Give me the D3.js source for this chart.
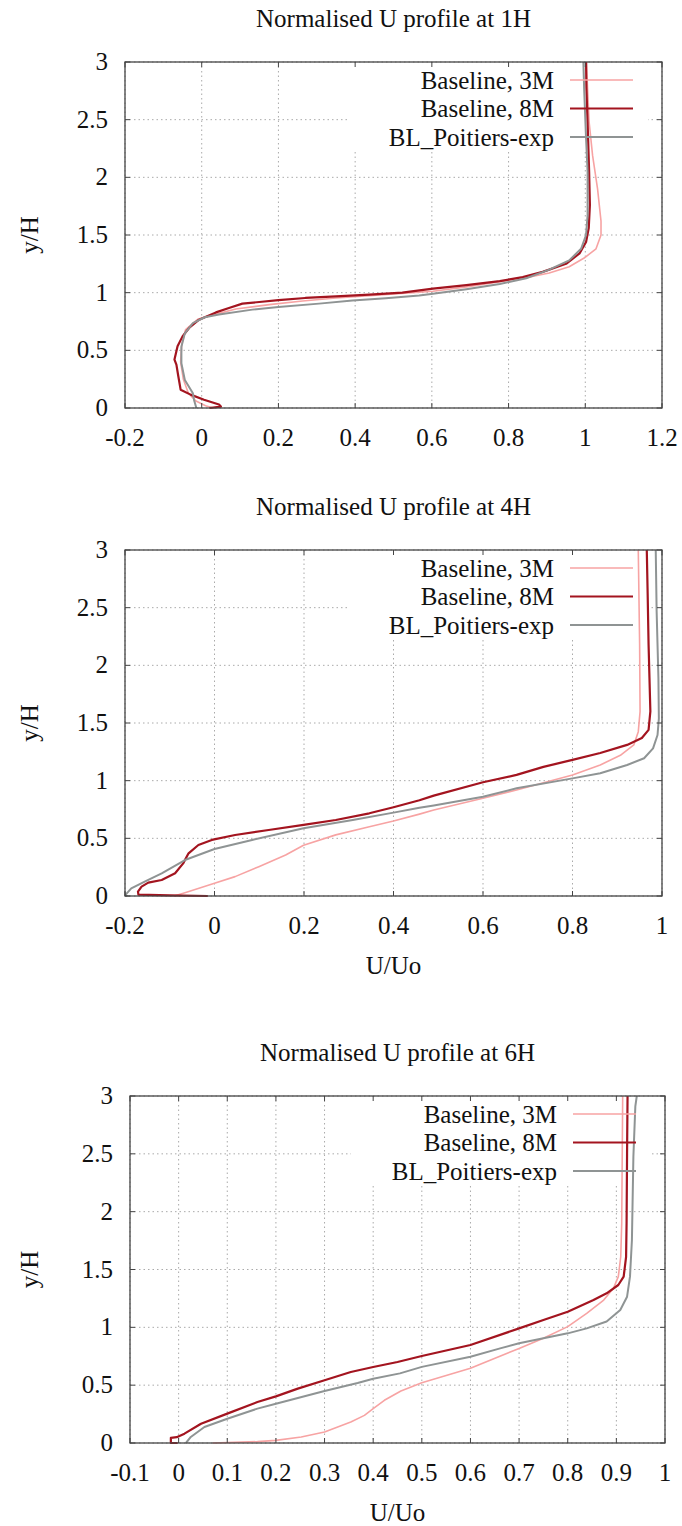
<!DOCTYPE html>
<html>
<head>
<meta charset="utf-8">
<script src="https://cdnjs.cloudflare.com/ajax/libs/d3/7.8.5/d3.min.js"></script>
<style>
  body { margin: 0; background: #fff; }
  text { font-family: "Liberation Serif", "DejaVu Serif", serif; fill: #111; }
</style>
</head>
<body>
<svg id="chart" width="682" height="1526"></svg>
<script>
// Series labels and tick labels
const seriesNames = ["Baseline, 3M", "Baseline, 8M", "BL_Poitiers-exp"];
const yTicks = [0, 0.5, 1, 1.5, 2, 2.5, 3];
const xTicks1H = [-0.2, 0, 0.2, 0.4, 0.6, 0.8, 1, 1.2];
const xTicks4H = [-0.2, 0, 0.2, 0.4, 0.6, 0.8, 1];
const xTicks6H = [-0.1, 0, 0.1, 0.2, 0.3, 0.4, 0.5, 0.6, 0.7, 0.8, 0.9, 1];

// Profiles as [U/Uo, y/H]
const p1H_3M = [[0.03,0],[0.01,0.02],[-0.015,0.06],[-0.035,0.13],[-0.048,0.25],[-0.055,0.4],[-0.052,0.55],[-0.042,0.68],[-0.01,0.77],[0.01,0.79],[0.089,0.858],[0.176,0.896],[0.263,0.928],[0.35,0.954],[0.437,0.974],[0.567,1.005],[0.603,1.012],[0.69,1.05],[0.777,1.095],[0.846,1.13],[0.906,1.17],[0.958,1.225],[0.997,1.3],[1.028,1.38],[1.041,1.5],[1.041,1.62],[1.032,1.9],[1.019,2.19],[1.01,2.48],[1.006,2.77],[1.003,3.0]];
const p1H_8M = [[0.02,0],[0.05,0.012],[0.045,0.03],[0.006,0.072],[-0.029,0.116],[-0.055,0.159],[-0.061,0.275],[-0.066,0.376],[-0.071,0.42],[-0.063,0.535],[-0.05,0.621],[-0.033,0.694],[-0.007,0.766],[0.037,0.829],[0.071,0.867],[0.106,0.905],[0.15,0.919],[0.2,0.936],[0.27,0.954],[0.35,0.968],[0.437,0.983],[0.523,1.0],[0.603,1.035],[0.69,1.065],[0.777,1.1],[0.837,1.135],[0.889,1.18],[0.95,1.25],[0.985,1.34],[1.002,1.44],[1.009,1.56],[1.012,1.76],[1.01,2.05],[1.006,2.48],[1.003,2.77],[1.002,3.0]];
const p1H_exp = [[-0.014,0],[-0.02,0.07],[-0.023,0.127],[-0.044,0.243],[-0.053,0.388],[-0.053,0.532],[-0.044,0.648],[-0.023,0.735],[0.008,0.787],[0.045,0.81],[0.132,0.853],[0.2,0.876],[0.306,0.905],[0.393,0.932],[0.48,0.952],[0.567,0.975],[0.603,0.99],[0.69,1.03],[0.777,1.075],[0.846,1.125],[0.906,1.2],[0.958,1.28],[0.989,1.38],[1.002,1.5],[1.006,1.67],[1.006,2.05],[1.002,2.34],[0.997,2.77],[0.995,3.0]];

const p4H_3M = [[-0.09,0],[-0.066,0.029],[0,0.11],[0.046,0.168],[0.099,0.254],[0.159,0.355],[0.199,0.44],[0.271,0.53],[0.346,0.6],[0.4,0.65],[0.458,0.71],[0.49,0.746],[0.6,0.847],[0.675,0.919],[0.8,1.05],[0.862,1.136],[0.907,1.22],[0.937,1.31],[0.947,1.425],[0.951,1.6],[0.95,2.18],[0.947,3.0]];
const p4H_8M = [[-0.015,0],[-0.1,0.005],[-0.17,0.012],[-0.171,0.038],[-0.163,0.081],[-0.148,0.116],[-0.118,0.139],[-0.088,0.197],[-0.07,0.283],[-0.058,0.37],[-0.036,0.442],[-0.006,0.486],[0.046,0.529],[0.121,0.572],[0.199,0.616],[0.271,0.659],[0.346,0.717],[0.4,0.77],[0.458,0.83],[0.49,0.87],[0.6,0.986],[0.675,1.05],[0.735,1.12],[0.8,1.18],[0.862,1.24],[0.922,1.31],[0.955,1.37],[0.97,1.44],[0.974,1.6],[0.972,1.89],[0.97,2.18],[0.968,2.61],[0.966,3.0]];
const p4H_exp = [[-0.195,0],[-0.199,0.009],[-0.186,0.066],[-0.156,0.124],[-0.118,0.197],[-0.066,0.312],[0,0.408],[0.084,0.486],[0.199,0.587],[0.309,0.659],[0.4,0.723],[0.458,0.765],[0.49,0.785],[0.6,0.861],[0.675,0.934],[0.8,1.02],[0.862,1.064],[0.922,1.136],[0.96,1.194],[0.98,1.28],[0.99,1.396],[0.993,1.54],[0.992,1.89],[0.988,2.47],[0.986,3.0]];

const p6H_3M = [[0.07,0],[0.162,0.012],[0.2,0.023],[0.252,0.052],[0.3,0.095],[0.354,0.182],[0.382,0.239],[0.4,0.297],[0.423,0.369],[0.457,0.45],[0.5,0.52],[0.6,0.646],[0.7,0.818],[0.75,0.905],[0.8,1.006],[0.839,1.121],[0.874,1.236],[0.894,1.337],[0.904,1.438],[0.909,1.61],[0.911,1.9],[0.913,3.0]];
const p6H_8M = [[-0.002,0],[-0.016,0],[-0.016,0.045],[-0.004,0.05],[0.012,0.081],[0.046,0.167],[0.1,0.254],[0.162,0.354],[0.2,0.403],[0.245,0.47],[0.3,0.542],[0.354,0.614],[0.4,0.657],[0.45,0.7],[0.5,0.752],[0.6,0.847],[0.7,0.991],[0.75,1.063],[0.8,1.135],[0.853,1.236],[0.88,1.294],[0.904,1.366],[0.915,1.438],[0.92,1.61],[0.921,1.9],[0.922,2.5],[0.923,3.0]];
const p6H_exp = [[0.015,0],[0.025,0.052],[0.053,0.138],[0.1,0.21],[0.162,0.297],[0.2,0.34],[0.3,0.45],[0.368,0.519],[0.4,0.556],[0.455,0.602],[0.5,0.658],[0.6,0.746],[0.661,0.818],[0.7,0.862],[0.75,0.905],[0.8,0.948],[0.839,0.991],[0.88,1.05],[0.908,1.15],[0.922,1.265],[0.928,1.438],[0.932,1.755],[0.935,2.475],[0.939,2.91],[0.942,3.0]];

const colors = ["#f7a3a3", "#a3141f", "#8f9494"];
const widths = [1.6, 2.2, 2];

const panels = [
  { title: "Normalised U profile at 1H", series: [p1H_3M, p1H_8M, p1H_exp], xDomain: [-0.2, 1.2], xTicks: xTicks1H,
    left: 125, right: 662, top: 62, bottom: 408, xLabel: null },
  { title: "Normalised U profile at 4H", series: [p4H_3M, p4H_8M, p4H_exp], xDomain: [-0.2, 1], xTicks: xTicks4H,
    left: 125, right: 662, top: 550, bottom: 896, xLabel: "U/Uo" },
  { title: "Normalised U profile at 6H", series: [p6H_3M, p6H_8M, p6H_exp], xDomain: [-0.1, 1], xTicks: xTicks6H,
    left: 130, right: 665, top: 1096, bottom: 1443, xLabel: "U/Uo" }
];

const svg = d3.select("#chart");
const fmt = d => String(+d.toFixed(2));

function label(g, x, y, s, anchor, extra) {
  return g.append("text")
    .attr("transform", `translate(${x},${y})${extra || ""}`)
    .attr("text-anchor", anchor)
    .style("font-size", "25px")
    .text(s);
}

panels.forEach(p => {
  const g = svg.append("g");
  const x = d3.scaleLinear().domain(p.xDomain).range([p.left, p.right]);
  const y = d3.scaleLinear().domain([0, 3]).range([p.bottom, p.top]);
  const midX = (p.left + p.right) / 2;

  // dotted grid
  p.xTicks.forEach(t => {
    g.append("line").attr("x1", x(t)).attr("x2", x(t)).attr("y1", p.top).attr("y2", p.bottom)
      .attr("stroke", "#aaa").attr("stroke-width", 1).attr("stroke-dasharray", "1.5,3");
  });
  yTicks.forEach(t => {
    g.append("line").attr("x1", p.left).attr("x2", p.right).attr("y1", y(t)).attr("y2", y(t))
      .attr("stroke", "#aaa").attr("stroke-width", 1).attr("stroke-dasharray", "1.5,3");
  });

  // opaque key box
  g.append("rect").attr("x", p.right - 314).attr("y", p.top + 1)
    .attr("width", 300).attr("height", 88).attr("fill", "#fff");

  // curves
  const line = d3.line().x(d => x(d[0])).y(d => y(d[1]));
  p.series.forEach((s, i) => {
    g.append("path").datum(s).attr("d", line)
      .attr("fill", "none").attr("stroke", colors[i]).attr("stroke-width", widths[i])
      .attr("stroke-linejoin", "round");
  });

  // legend
  seriesNames.forEach((name, i) => {
    const ly = p.top + 18 + i * 28.5;
    label(g, p.right - 108, ly + 8.5, name, "end");
    g.append("line").attr("x1", p.right - 92).attr("x2", p.right - 29).attr("y1", ly).attr("y2", ly)
      .attr("stroke", colors[i]).attr("stroke-width", widths[i]);
  });

  // border and inward ticks on all sides
  g.append("rect").attr("x", p.left).attr("y", p.top)
    .attr("width", p.right - p.left).attr("height", p.bottom - p.top)
    .attr("fill", "none").attr("stroke", "#444").attr("stroke-width", 1.3);
  p.xTicks.forEach(t => {
    g.append("line").attr("x1", x(t)).attr("x2", x(t)).attr("y1", p.bottom).attr("y2", p.bottom - 5).attr("stroke", "#444");
    g.append("line").attr("x1", x(t)).attr("x2", x(t)).attr("y1", p.top).attr("y2", p.top + 5).attr("stroke", "#444");
    label(g, x(t), p.bottom + 38, fmt(t), "middle");
  });
  yTicks.forEach(t => {
    g.append("line").attr("x1", p.left).attr("x2", p.left + 5).attr("y1", y(t)).attr("y2", y(t)).attr("stroke", "#444");
    g.append("line").attr("x1", p.right).attr("x2", p.right - 5).attr("y1", y(t)).attr("y2", y(t)).attr("stroke", "#444");
    label(g, p.left - 17, y(t) + 8, fmt(t), "end");
  });

  // titles
  label(g, midX, p.top - 35, p.title, "middle");
  label(g, 38, (p.top + p.bottom) / 2, "y/H", "middle", " rotate(-90)");
  if (p.xLabel) label(g, midX, p.bottom + 78, p.xLabel, "middle");
});
</script>
</body>
</html>
